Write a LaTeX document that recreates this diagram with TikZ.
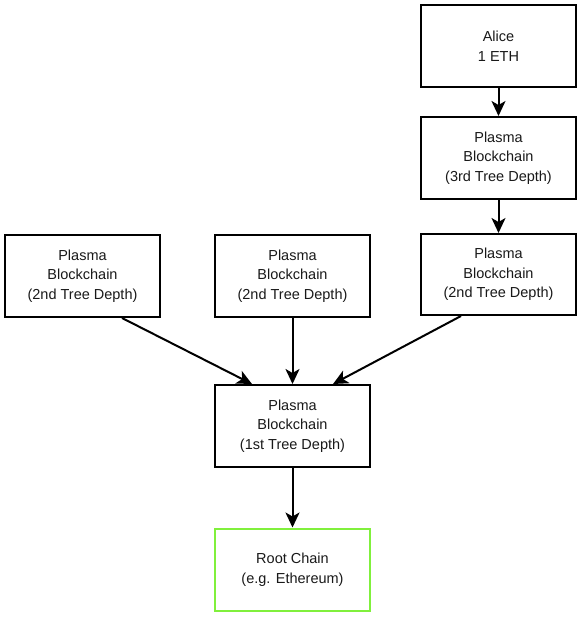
\documentclass[tikz,border=0pt]{standalone}
\usepackage{fontspec}
\setmainfont{Liberation Sans}
\usetikzlibrary{arrows.meta}
\definecolor{rootgreen}{RGB}{128,240,60}
\tikzset{
  box/.style={draw=black, line width=2pt, minimum width=155pt, minimum height=82pt,
    inner sep=0pt, align=center, font=\fontsize{14.5}{19.5}\selectfont, text=black!90,
    execute at begin node={\rule{0pt}{14.6pt}}},
  conn/.style={draw=black, line width=2pt, -{Stealth[length=15pt,width=14pt,inset=4pt]}}
}
\begin{document}
\begin{tikzpicture}[x=1pt,y=-1pt]
\useasboundingbox (0,0) rectangle (587,620);
\node[box] (A) at (498.5,46) {Alice\\1 ETH};
\node[box] (T) at (498.5,158) {Plasma\\Blockchain\\(3rd Tree Depth)};
\node[box] (L) at (82.5,276) {Plasma\\Blockchain\\(2nd Tree Depth)};
\node[box] (M) at (292.5,276) {Plasma\\Blockchain\\(2nd Tree Depth)};
\node[box, minimum height=81pt] (R) at (498.5,274.5) {Plasma\\Blockchain\\(2nd Tree Depth)};
\node[box] (F) at (292.5,426) {Plasma\\Blockchain\\(1st Tree Depth)};
\node[box, draw=rootgreen] (C) at (292.5,569.5) {Root Chain\\(e.g. Ethereum)};
\draw[conn] (A) -- (T);
\draw[conn] (T) -- (R);
\draw[conn] ([xshift=39.5pt]L.south) -- ([xshift=-40.5pt]F.north);
\draw[conn] (M) -- (F);
\draw[conn] ([xshift=-37.5pt]R.south) -- ([xshift=40.5pt]F.north);
\draw[conn] (F) -- (C);
\end{tikzpicture}
\end{document}
